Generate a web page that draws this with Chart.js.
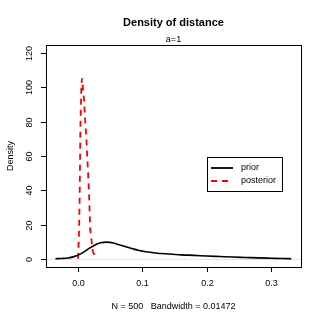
<!DOCTYPE html>
<html>
<head>
<meta charset="utf-8">
<script src="https://cdn.jsdelivr.net/npm/chart.js@4"></script>
<style>
  body { margin: 0; background: #fff; }
</style>
</head>
<body>
<canvas id="myChart" width="325" height="325"></canvas>
<script>
// density estimates
var priorX = [-0.035, -0.025, -0.015, -0.005, 0.005, 0.015, 0.025, 0.035, 0.045, 0.055, 0.065, 0.075, 0.085, 0.095, 0.105, 0.12, 0.14, 0.16, 0.18, 0.2, 0.22, 0.24, 0.26, 0.28, 0.3, 0.315, 0.331];
var priorY = [0.05, 0.2, 0.5, 1.4, 3.0, 5.5, 7.8, 9.3, 9.7, 9.2, 8.0, 6.9, 5.8, 4.8, 4.1, 3.4, 2.8, 2.3, 2.0, 1.6, 1.3, 1.0, 0.75, 0.5, 0.3, 0.15, 0.05];
var postX = [0, 0.0015, 0.0026, 0.0037, 0.0053, 0.0062, 0.0093, 0.013, 0.017, 0.019, 0.023, 0.0285];
var postY = [0, 13, 36, 76, 101, 105.4, 93, 70, 40, 17, 4.3, 0];

var xTicks = [0, 0.1, 0.2, 0.3];
var xTickLabels = ['0.0', '0.1', '0.2', '0.3'];
var yTicks = [0, 20, 40, 60, 80, 100, 120];
var seriesNames = ['prior', 'posterior'];

var FONT = '"Liberation Sans", Arial, sans-serif';

function pts(xs, ys){
  return xs.map((x, i)=> ({x: x, y: ys[i]}));
}

// R style frame, axes, titles and legend
var rFrame = {
  id: 'rFrame',
  beforeDatasetsDraw(chart){
    var ctx = chart.ctx, a = chart.chartArea, y0 = chart.scales.y.getPixelForValue(0);
    ctx.save();
    ctx.strokeStyle = '#e4e4e4';
    ctx.lineWidth = 1;
    ctx.beginPath();
    ctx.moveTo(a.left, Math.round(y0) + 0.5);
    ctx.lineTo(a.right, Math.round(y0) + 0.5);
    ctx.stroke();
    ctx.restore();
  },
  afterDraw(chart){
    var ctx = chart.ctx, a = chart.chartArea;
    var xs = chart.scales.x, ys = chart.scales.y;
    ctx.save();
    ctx.strokeStyle = '#000';
    ctx.fillStyle = '#000';
    ctx.lineWidth = 1;
    ctx.strokeRect(Math.round(a.left) + 0.5, Math.round(a.top) + 0.5, Math.round(a.right - a.left), Math.round(a.bottom - a.top));

    // x axis
    ctx.font = '9px ' + FONT;
    ctx.textAlign = 'center';
    ctx.textBaseline = 'middle';
    ctx.beginPath();
    xTicks.forEach((v, i)=>{
      var px = Math.round(xs.getPixelForValue(v)) + 0.5;
      ctx.moveTo(px, a.bottom);
      ctx.lineTo(px, a.bottom + 5);
      ctx.fillText(xTickLabels[i], px, 284);
    });
    ctx.stroke();

    // y axis
    ctx.beginPath();
    yTicks.forEach((v)=>{
      var py = Math.round(ys.getPixelForValue(v)) + 0.5;
      ctx.moveTo(a.left, py);
      ctx.lineTo(a.left - 5, py);
      ctx.save();
      ctx.translate(30, py);
      ctx.rotate(-Math.PI / 2);
      ctx.fillText(String(v), 0, 0);
      ctx.restore();
    });
    ctx.stroke();

    // titles
    var cx = (a.left + a.right) / 2;
    ctx.font = 'bold 11px ' + FONT;
    ctx.fillText('Density of distance', cx, 23);
    ctx.font = '9px ' + FONT;
    ctx.fillText('a=1', cx, 40);
    ctx.fillText('N = 500   Bandwidth = 0.01472', cx, 307);
    ctx.save();
    ctx.translate(11, (a.top + a.bottom) / 2);
    ctx.rotate(-Math.PI / 2);
    ctx.fillText('Density', 0, 0);
    ctx.restore();

    // legend
    ctx.strokeRect(207.5, 157.5, 75, 34);
    var sets = chart.data.datasets;
    [168, 181].forEach((ly, i)=>{
      ctx.save();
      ctx.strokeStyle = sets[i].borderColor;
      ctx.lineWidth = 1.8;
      ctx.setLineDash(sets[i].borderDash || []);
      ctx.beginPath();
      ctx.moveTo(211, ly);
      ctx.lineTo(233, ly);
      ctx.stroke();
      ctx.restore();
      ctx.textAlign = 'left';
      ctx.fillText(seriesNames[i], 241, ly);
    });
    ctx.restore();
  }
};

new Chart(document.getElementById('myChart').getContext('2d'), {
  type: 'line',
  data: {
    datasets: [{
      label: seriesNames[0],
      data: pts(priorX, priorY),
      borderColor: '#000',
      borderWidth: 1.6,
      cubicInterpolationMode: 'monotone'
    }, {
      label: seriesNames[1],
      data: pts(postX, postY),
      borderColor: '#ff0000',
      borderWidth: 1.8,
      borderDash: [6, 5],
      tension: 0
    }]
  },
  options: {
    responsive: false,
    animation: false,
    layout: { padding: { left: 46, right: 24, top: 45, bottom: 58 } },
    elements: { point: { radius: 0 } },
    scales: {
      x: { type: 'linear', min: -0.0496, max: 0.346, display: false },
      y: { min: -4.8, max: 124.8, display: false }
    },
    plugins: { legend: { display: false }, tooltip: { enabled: false } }
  },
  plugins: [rFrame]
});
</script>
</body>
</html>
